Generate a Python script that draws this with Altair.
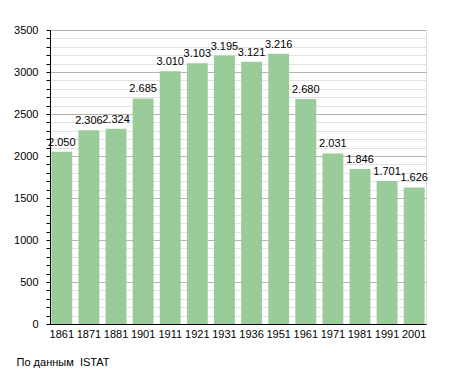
import altair as alt
import pandas as pd

years = ["1861", "1871", "1881", "1901", "1911", "1921", "1931", "1936", "1951", "1961", "1971", "1981", "1991", "2001"]
population = [2050, 2306, 2324, 2685, 3010, 3103, 3195, 3121, 3216, 2680, 2031, 1846, 1701, 1626]
labels = ["2.050", "2.306", "2.324", "2.685", "3.010", "3.103", "3.195", "3.121", "3.216", "2.680", "2.031", "1.846", "1.701", "1.626"]
y_ticks = list(range(0, 3501, 100))

df = pd.DataFrame({"year": years, "pop": population, "label": labels})

FONT = "Liberation Sans"

x = alt.X("year:N", sort=years, title=None,
          scale=alt.Scale(paddingInner=0.23, paddingOuter=0.05),
          axis=alt.Axis(labelAngle=0, ticks=False, domainColor="black", labelColor="black",
                        labelFont=FONT, labelFontSize=11, labelPadding=4, grid=False))

y = alt.Y("pop:Q", title=None,
          scale=alt.Scale(domain=[0, 3500], nice=False, zero=True),
          axis=alt.Axis(values=y_ticks,
                        labelExpr="datum.value % 500 === 0 ? datum.label : ''",
                        format="d",
                        tickSize=4, tickColor="black", domainColor="black",
                        labelColor="black", labelFont=FONT, labelFontSize=11,
                        labelPadding=8, labelOverlap=False,
                        gridColor={"condition": {"test": "datum.value % 500 === 0", "value": "#b4b4b4"}, "value": "#e2e2e2"},
                        gridWidth=1))

base = alt.Chart(df).encode(x=x, y=y)

bars = base.mark_bar(color="#99cc99")

text = base.mark_text(baseline="bottom", dy=-4, font=FONT, fontSize=11, color="black").encode(text="label:N")

chart = alt.layer(bars, text).properties(
    width=376, height=294,
    autosize=alt.AutoSizeParams(type="none"),
    padding={"left": 42, "top": 22, "right": 21, "bottom": 51},
    title=alt.TitleParams("По данным\u00a0 ISTAT", orient="bottom", anchor="start", align="left", dx=3, offset=18,
                          font=FONT, fontSize=11, fontWeight="normal", color="black"),
).configure_view(stroke=None).configure(background="white")

chart.save("out.html", embed_options={"renderer": "svg", "actions": False})
